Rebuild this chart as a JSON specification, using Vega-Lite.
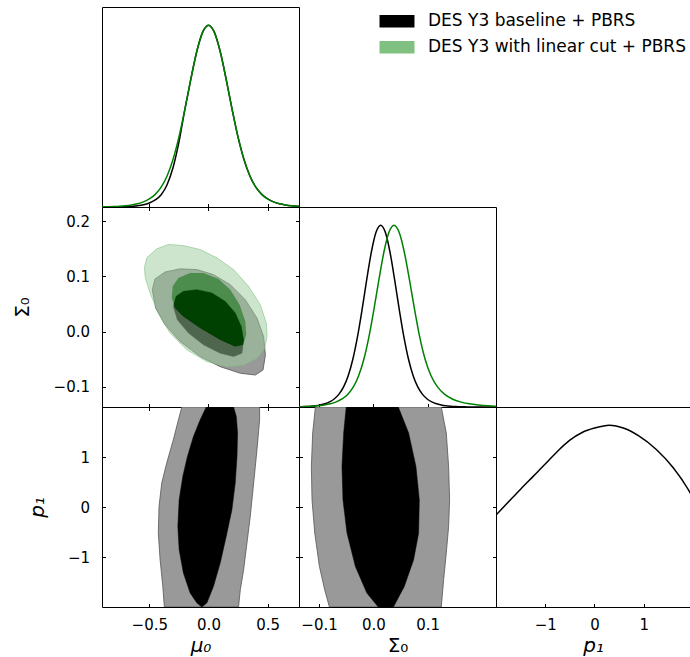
{
"$schema": "https://vega.github.io/schema/vega-lite/v6.json",
"background": "white",
"padding": {"left": 12, "top": 6, "right": 0, "bottom": 0},
"config": {
 "font": "DejaVu Sans",
 "view": {"stroke": "black", "strokeWidth": 1},
 "axis": {"grid": false, "domain": true, "domainColor": "black", "domainWidth": 1, "ticks": true, "tickColor": "black", "tickWidth": 1, "tickSize": -3.5, "labelFont": "DejaVu Sans", "labelFontSize": 15, "labelColor": "black", "titleFont": "DejaVu Sans", "titleFontSize": 20, "titleFontWeight": "normal", "titleColor": "black", "zindex": 1},
 "axisX": {"labelPadding": 14, "titlePadding": 3},
 "axisY": {"labelPadding": 16, "titlePadding": 20}
},
"datasets": {
 "mu_b": [{"x":-0.9,"y":0.0001},{"x":-0.85,"y":0.0002},{"x":-0.8,"y":0.0004},{"x":-0.75,"y":0.0008},{"x":-0.7,"y":0.0017},{"x":-0.65,"y":0.0034},{"x":-0.6,"y":0.0064},{"x":-0.55,"y":0.0119},{"x":-0.5,"y":0.0218},{"x":-0.45,"y":0.0386},{"x":-0.4,"y":0.0677},{"x":-0.35,"y":0.1223},{"x":-0.3,"y":0.2155},{"x":-0.25,"y":0.3566},{"x":-0.2,"y":0.5358},{"x":-0.15,"y":0.7006},{"x":-0.1,"y":0.8525},{"x":-0.05,"y":0.9607},{"x":0,"y":1},{"x":0.05,"y":0.9607},{"x":0.1,"y":0.8525},{"x":0.15,"y":0.7006},{"x":0.2,"y":0.5358},{"x":0.25,"y":0.3842},{"x":0.3,"y":0.2611},{"x":0.35,"y":0.1706},{"x":0.4,"y":0.109},{"x":0.45,"y":0.0693},{"x":0.5,"y":0.0441},{"x":0.55,"y":0.0282},{"x":0.6,"y":0.018},{"x":0.65,"y":0.0113},{"x":0.7,"y":0.0069},{"x":0.75,"y":0.0042},{"x":0.765,"y":0.0037}],
 "mu_g": [{"x":-0.9,"y":0.0008},{"x":-0.85,"y":0.0014},{"x":-0.8,"y":0.0025},{"x":-0.75,"y":0.0042},{"x":-0.7,"y":0.0069},{"x":-0.65,"y":0.0113},{"x":-0.6,"y":0.018},{"x":-0.55,"y":0.0282},{"x":-0.5,"y":0.0441},{"x":-0.45,"y":0.0693},{"x":-0.4,"y":0.109},{"x":-0.35,"y":0.1706},{"x":-0.3,"y":0.2611},{"x":-0.25,"y":0.3842},{"x":-0.2,"y":0.5358},{"x":-0.15,"y":0.7006},{"x":-0.1,"y":0.8525},{"x":-0.05,"y":0.9607},{"x":0,"y":1},{"x":0.05,"y":0.9607},{"x":0.1,"y":0.8525},{"x":0.15,"y":0.7006},{"x":0.2,"y":0.5358},{"x":0.25,"y":0.3842},{"x":0.3,"y":0.2611},{"x":0.35,"y":0.1706},{"x":0.4,"y":0.109},{"x":0.45,"y":0.0693},{"x":0.5,"y":0.0441},{"x":0.55,"y":0.0282},{"x":0.6,"y":0.018},{"x":0.65,"y":0.0113},{"x":0.7,"y":0.0069},{"x":0.75,"y":0.0042},{"x":0.765,"y":0.0037}],
 "s_b": [{"x":-0.137,"y":0.001},{"x":-0.13219,"y":0.0014},{"x":-0.12362,"y":0.0025},{"x":-0.11505,"y":0.0042},{"x":-0.10648,"y":0.0069},{"x":-0.09791,"y":0.0113},{"x":-0.08934,"y":0.018},{"x":-0.08077,"y":0.0282},{"x":-0.0722,"y":0.0441},{"x":-0.06363,"y":0.0693},{"x":-0.05506,"y":0.109},{"x":-0.04649,"y":0.1706},{"x":-0.03792,"y":0.2611},{"x":-0.02935,"y":0.3842},{"x":-0.02078,"y":0.5358},{"x":-0.01221,"y":0.7006},{"x":-0.00364,"y":0.8525},{"x":0.00493,"y":0.9607},{"x":0.0135,"y":1},{"x":0.02207,"y":0.9607},{"x":0.03064,"y":0.8525},{"x":0.03921,"y":0.7006},{"x":0.04778,"y":0.5358},{"x":0.05635,"y":0.3842},{"x":0.06492,"y":0.2611},{"x":0.07349,"y":0.1706},{"x":0.08206,"y":0.109},{"x":0.09063,"y":0.0693},{"x":0.0992,"y":0.0441},{"x":0.10777,"y":0.0282},{"x":0.11634,"y":0.018},{"x":0.12491,"y":0.0113},{"x":0.13348,"y":0.0069},{"x":0.14205,"y":0.0042},{"x":0.15062,"y":0.0025},{"x":0.15919,"y":0.0014},{"x":0.16776,"y":0.0008},{"x":0.19,"y":0.0002},{"x":0.226,"y":0}],
 "s_g": [{"x":-0.137,"y":0.0014},{"x":-0.1251,"y":0.0025},{"x":-0.1133,"y":0.0042},{"x":-0.1016,"y":0.0069},{"x":-0.0903,"y":0.0113},{"x":-0.0791,"y":0.018},{"x":-0.0683,"y":0.0282},{"x":-0.0576,"y":0.0441},{"x":-0.0473,"y":0.0693},{"x":-0.0371,"y":0.109},{"x":-0.0273,"y":0.1706},{"x":-0.0176,"y":0.2611},{"x":-0.00825,"y":0.3842},{"x":0.001,"y":0.5358},{"x":0.01025,"y":0.7006},{"x":0.0195,"y":0.8525},{"x":0.02875,"y":0.9607},{"x":0.038,"y":1},{"x":0.0475,"y":0.9607},{"x":0.057,"y":0.8525},{"x":0.0665,"y":0.7006},{"x":0.076,"y":0.5358},{"x":0.0855,"y":0.3842},{"x":0.0955,"y":0.2611},{"x":0.1065,"y":0.1706},{"x":0.1185,"y":0.109},{"x":0.1315,"y":0.0693},{"x":0.1455,"y":0.0441},{"x":0.1605,"y":0.0282},{"x":0.1765,"y":0.018},{"x":0.1935,"y":0.0113},{"x":0.2115,"y":0.0069},{"x":0.226,"y":0.0047}],
 "p1c": [{"x":-2,"y":0.506},{"x":-1.75,"y":0.577},{"x":-1.5,"y":0.648},{"x":-1.25,"y":0.717},{"x":-1,"y":0.786},{"x":-0.75,"y":0.857},{"x":-0.5,"y":0.918},{"x":-0.25,"y":0.96},{"x":0,"y":0.984},{"x":0.3,"y":1.0},{"x":0.6,"y":0.983},{"x":0.9,"y":0.941},{"x":1.25,"y":0.868},{"x":1.6,"y":0.766},{"x":1.95,"y":0.625},{"x":2.0,"y":0.6}],
 "a_b2": [{"i":0,"x":-0.475,"y":0.076},{"i":1,"x":-0.452,"y":0.0954},{"i":2,"x":-0.367,"y":0.108},{"i":3,"x":-0.24,"y":0.1137},{"i":4,"x":-0.098,"y":0.1124},{"i":5,"x":0.042,"y":0.1033},{"i":6,"x":0.184,"y":0.0851},{"i":7,"x":0.311,"y":0.0577},{"i":8,"x":0.41,"y":0.0244},{"i":9,"x":0.466,"y":-0.0091},{"i":10,"x":0.481,"y":-0.0424},{"i":11,"x":0.461,"y":-0.0698},{"i":12,"x":0.396,"y":-0.0789},{"i":13,"x":0.269,"y":-0.0758},{"i":14,"x":0.099,"y":-0.0638},{"i":15,"x":-0.07,"y":-0.0455},{"i":16,"x":-0.24,"y":-0.0182},{"i":17,"x":-0.367,"y":0.0122},{"i":18,"x":-0.446,"y":0.0426},{"i":19,"x":-0.475,"y":0.076}],
 "a_b1": [{"i":0,"x":-0.297,"y":0.0455},{"i":1,"x":-0.274,"y":0.0638},{"i":2,"x":-0.212,"y":0.0729},{"i":3,"x":-0.098,"y":0.076},{"i":4,"x":0.029,"y":0.07},{"i":5,"x":0.142,"y":0.0546},{"i":6,"x":0.226,"y":0.0335},{"i":7,"x":0.277,"y":0.0091},{"i":8,"x":0.297,"y":-0.0151},{"i":9,"x":0.283,"y":-0.0393},{"i":10,"x":0.212,"y":-0.0455},{"i":11,"x":0.099,"y":-0.0393},{"i":12,"x":-0.042,"y":-0.0242},{"i":13,"x":-0.169,"y":-0.0029},{"i":14,"x":-0.263,"y":0.0213},{"i":15,"x":-0.297,"y":0.0455}],
 "a_gband": [{"i":0,"x":-0.542,"y":0.1155},{"i":1,"x":-0.522,"y":0.1337},{"i":2,"x":-0.437,"y":0.15},{"i":3,"x":-0.339,"y":0.158},{"i":4,"x":-0.212,"y":0.156},{"i":5,"x":-0.07,"y":0.1488},{"i":6,"x":0.071,"y":0.1337},{"i":7,"x":0.212,"y":0.1124},{"i":8,"x":0.339,"y":0.082},{"i":9,"x":0.438,"y":0.0486},{"i":10,"x":0.489,"y":0.0153},{"i":11,"x":0.495,"y":-0.0091},{"i":12,"x":0.475,"y":-0.0302},{"i":13,"x":0.41,"y":-0.0485},{"i":14,"x":0.297,"y":-0.0607},{"i":15,"x":0.156,"y":-0.0638},{"i":16,"x":-0.014,"y":-0.0546},{"i":17,"x":-0.183,"y":-0.0333},{"i":18,"x":-0.325,"y":-0.0029},{"i":19,"x":-0.424,"y":0.0335},{"i":20,"x":-0.494,"y":0.07},{"i":21,"x":-0.534,"y":0.0973},{"i":22,"x":-0.542,"y":0.1155},{"i":23,"x":-0.31,"y":0.0608},{"i":24,"x":-0.282,"y":0.0426},{"i":25,"x":-0.212,"y":0.0273},{"i":26,"x":-0.07,"y":0.0062},{"i":27,"x":0.099,"y":-0.0151},{"i":28,"x":0.226,"y":-0.0273},{"i":29,"x":0.292,"y":-0.0242},{"i":30,"x":0.319,"y":-0.006},{"i":31,"x":0.311,"y":0.0182},{"i":32,"x":0.263,"y":0.0486},{"i":33,"x":0.184,"y":0.076},{"i":34,"x":0.085,"y":0.0954},{"i":35,"x":-0.042,"y":0.1064},{"i":36,"x":-0.155,"y":0.1064},{"i":37,"x":-0.254,"y":0.0973},{"i":38,"x":-0.302,"y":0.082},{"i":39,"x":-0.31,"y":0.0608},{"i":40,"x":-0.542,"y":0.1155}],
 "a_g1": [{"i":0,"x":-0.31,"y":0.0608},{"i":1,"x":-0.302,"y":0.082},{"i":2,"x":-0.254,"y":0.0973},{"i":3,"x":-0.155,"y":0.1064},{"i":4,"x":-0.042,"y":0.1064},{"i":5,"x":0.085,"y":0.0954},{"i":6,"x":0.184,"y":0.076},{"i":7,"x":0.263,"y":0.0486},{"i":8,"x":0.311,"y":0.0182},{"i":9,"x":0.319,"y":-0.006},{"i":10,"x":0.292,"y":-0.0242},{"i":11,"x":0.226,"y":-0.0273},{"i":12,"x":0.099,"y":-0.0151},{"i":13,"x":-0.07,"y":0.0062},{"i":14,"x":-0.212,"y":0.0273},{"i":15,"x":-0.282,"y":0.0426},{"i":16,"x":-0.31,"y":0.0608}],
 "c_b2": [{"i":0,"x":-0.225,"y":2.0},{"i":1,"x":-0.254,"y":1.746},{"i":2,"x":-0.297,"y":1.346},{"i":3,"x":-0.353,"y":0.88},{"i":4,"x":-0.395,"y":0.48},{"i":5,"x":-0.418,"y":0.012},{"i":6,"x":-0.424,"y":-0.52},{"i":7,"x":-0.409,"y":-1.054},{"i":8,"x":-0.386,"y":-1.588},{"i":9,"x":-0.373,"y":-2.0},{"i":10,"x":0.254,"y":-2.0},{"i":11,"x":0.269,"y":-1.654},{"i":12,"x":0.297,"y":-1.254},{"i":13,"x":0.325,"y":-0.72},{"i":14,"x":0.353,"y":-0.188},{"i":15,"x":0.376,"y":0.346},{"i":16,"x":0.396,"y":0.812},{"i":17,"x":0.415,"y":1.28},{"i":18,"x":0.432,"y":1.746},{"i":19,"x":0.432,"y":2.0},{"i":20,"x":-0.225,"y":2.0}],
 "c_b1": [{"i":0,"x":-0.019,"y":2.0},{"i":1,"x":-0.07,"y":1.746},{"i":2,"x":-0.127,"y":1.412},{"i":3,"x":-0.178,"y":1.012},{"i":4,"x":-0.217,"y":0.612},{"i":5,"x":-0.248,"y":0.146},{"i":6,"x":-0.259,"y":-0.388},{"i":7,"x":-0.248,"y":-0.854},{"i":8,"x":-0.212,"y":-1.32},{"i":9,"x":-0.155,"y":-1.72},{"i":10,"x":-0.098,"y":-1.92},{"i":11,"x":-0.056,"y":-2.0},{"i":12,"x":-0.014,"y":-1.92},{"i":13,"x":0.042,"y":-1.588},{"i":14,"x":0.099,"y":-1.12},{"i":15,"x":0.15,"y":-0.588},{"i":16,"x":0.198,"y":-0.054},{"i":17,"x":0.226,"y":0.48},{"i":18,"x":0.241,"y":1.012},{"i":19,"x":0.246,"y":1.48},{"i":20,"x":0.235,"y":1.812},{"i":21,"x":0.212,"y":2.0},{"i":22,"x":-0.019,"y":2.0}],
 "d_b2": [{"i":0,"x":-0.1068,"y":2.0},{"i":1,"x":-0.1118,"y":1.48},{"i":2,"x":-0.1142,"y":0.812},{"i":3,"x":-0.113,"y":0.146},{"i":4,"x":-0.108,"y":-0.52},{"i":5,"x":-0.0994,"y":-1.188},{"i":6,"x":-0.0897,"y":-1.654},{"i":7,"x":-0.081,"y":-2.0},{"i":8,"x":0.1252,"y":-2.0},{"i":9,"x":0.1295,"y":-1.454},{"i":10,"x":0.1344,"y":-0.92},{"i":11,"x":0.1387,"y":-0.388},{"i":12,"x":0.1405,"y":0.146},{"i":13,"x":0.1387,"y":0.812},{"i":14,"x":0.1344,"y":1.48},{"i":15,"x":0.1252,"y":2.0},{"i":16,"x":-0.1068,"y":2.0}],
 "d_b1": [{"i":0,"x":-0.05,"y":2.0},{"i":1,"x":-0.0547,"y":1.48},{"i":2,"x":-0.0578,"y":0.812},{"i":3,"x":-0.056,"y":0.146},{"i":4,"x":-0.0486,"y":-0.52},{"i":5,"x":-0.0331,"y":-1.188},{"i":6,"x":-0.012,"y":-1.72},{"i":7,"x":0.009,"y":-2.0},{"i":8,"x":0.037,"y":-2.0},{"i":9,"x":0.057,"y":-1.588},{"i":10,"x":0.0742,"y":-1.054},{"i":11,"x":0.0834,"y":-0.52},{"i":12,"x":0.0847,"y":0.146},{"i":13,"x":0.0785,"y":0.812},{"i":14,"x":0.065,"y":1.48},{"i":15,"x":0.046,"y":2.0},{"i":16,"x":-0.05,"y":2.0}]
},
"columns": 3,
"spacing": 0,
"bounds": "flush",
"resolve": {"scale": {"x": "independent", "y": "independent"}},
"concat": [
 {
  "width": 197, "height": 200,
  "layer": [
   {"data": {"name": "mu_b"}, "mark": {"type": "line", "color": "black", "strokeWidth": 1.5, "interpolate": "monotone", "clip": true},
    "encoding": {
     "x": {"field": "x", "type": "quantitative", "scale": {"domain": [-0.9, 0.765], "nice": false, "zero": false}, "axis": {"orient": "bottom", "values": [-0.5, 0, 0.5], "labels": false, "title": null, "domain": false}},
     "y": {"field": "y", "type": "quantitative", "scale": {"domain": [0, 1.1], "nice": false, "zero": false}, "axis": null}}},
   {"data": {"name": "mu_g"}, "mark": {"type": "line", "color": "#008000", "strokeWidth": 1.5, "interpolate": "monotone", "clip": true},
    "encoding": {"x": {"field": "x", "type": "quantitative"}, "y": {"field": "y", "type": "quantitative"}}},
   {"data": {"values": [{"s": "DES Y3 baseline + PBRS"}, {"s": "DES Y3 with linear cut + PBRS"}]},
    "mark": {"type": "square", "size": 0},
    "encoding": {"fill": {"field": "s", "type": "nominal", "scale": {"domain": ["DES Y3 baseline + PBRS", "DES Y3 with linear cut + PBRS"], "range": ["#000000", "#80c080"]},
     "legend": {"orient": "none", "legendX": 286.5, "legendY": 5.7, "title": null, "symbolType": "M-2.8,-1L2.8,-1L2.8,1L-2.8,1Z", "symbolSize": 156, "symbolStrokeWidth": 0, "symbolOpacity": 1, "labelFont": "DejaVu Sans", "labelFontSize": 17, "labelColor": "black", "labelOffset": 22.5, "labelLimit": 400, "rowPadding": 8, "padding": 0}}}}
  ]
 },
 {"width": 197, "height": 200, "view": {"stroke": null}, "data": {"values": [{"z": 0}]}, "mark": {"type": "point", "opacity": 0}, "encoding": {}},
 {"width": 194, "height": 200, "view": {"stroke": null}, "data": {"values": [{"z": 0}]}, "mark": {"type": "point", "opacity": 0}, "encoding": {}},
 {
  "width": 197, "height": 200, "view": {"stroke": null},
  "resolve": {"axis": {"x": "independent", "y": "independent"}},
  "layer": [
   {"data": {"name": "a_b2"}, "mark": {"type": "line", "fill": "#999999", "stroke": "#555555", "strokeWidth": 0.8},
    "encoding": {
     "x": {"field": "x", "type": "quantitative", "scale": {"domain": [-0.9, 0.765], "nice": false, "zero": false}, "axis": {"orient": "bottom", "values": [-0.5, 0, 0.5], "labels": false, "title": null}},
     "y": {"field": "y", "type": "quantitative", "scale": {"domain": [-0.137, 0.226], "nice": false, "zero": false}, "axis": {"orient": "left", "values": [-0.1, 0, 0.1, 0.2], "format": ".1f", "title": "Σ₀", "titlePadding": 21}},
     "order": {"field": "i", "type": "quantitative"}}},
   {"data": {"name": "a_b1"}, "mark": {"type": "line", "fill": "black", "stroke": "black", "strokeWidth": 0.5},
    "encoding": {"x": {"field": "x", "type": "quantitative", "axis": null}, "y": {"field": "y", "type": "quantitative", "axis": null}, "order": {"field": "i", "type": "quantitative"}}},
   {"data": {"name": "a_gband"}, "mark": {"type": "line", "fill": "#99cc99", "fillOpacity": 0.5, "strokeWidth": 0, "strokeOpacity": 0},
    "encoding": {"x": {"field": "x", "type": "quantitative", "axis": null}, "y": {"field": "y", "type": "quantitative", "axis": null}, "order": {"field": "i", "type": "quantitative"}}},
   {"data": {"name": "a_gband"}, "transform": [{"filter": "datum.i <= 22"}], "mark": {"type": "line", "color": "#80c080", "strokeWidth": 0.8, "strokeOpacity": 0.7},
    "encoding": {"x": {"field": "x", "type": "quantitative", "axis": null}, "y": {"field": "y", "type": "quantitative", "axis": null}, "order": {"field": "i", "type": "quantitative"}}},
   {"data": {"name": "a_g1"}, "mark": {"type": "line", "fill": "#008000", "fillOpacity": 0.5, "strokeWidth": 0, "strokeOpacity": 0},
    "encoding": {"x": {"field": "x", "type": "quantitative", "axis": {"orient": "top", "values": [-0.5, 0, 0.5], "labels": false, "title": null}}, "y": {"field": "y", "type": "quantitative", "axis": {"orient": "right", "values": [-0.1, 0, 0.1, 0.2], "labels": false, "title": null}}, "order": {"field": "i", "type": "quantitative"}}}
  ]
 },
 {
  "width": 197, "height": 200,
  "layer": [
   {"data": {"name": "s_b"}, "mark": {"type": "line", "color": "black", "strokeWidth": 1.5, "interpolate": "monotone", "clip": true},
    "encoding": {
     "x": {"field": "x", "type": "quantitative", "scale": {"domain": [-0.137, 0.226], "nice": false, "zero": false}, "axis": {"orient": "bottom", "values": [-0.1, 0, 0.1], "labels": false, "title": null, "domain": false}},
     "y": {"field": "y", "type": "quantitative", "scale": {"domain": [0, 1.1], "nice": false, "zero": false}, "axis": null}}},
   {"data": {"name": "s_g"}, "mark": {"type": "line", "color": "#008000", "strokeWidth": 1.5, "interpolate": "monotone", "clip": true},
    "encoding": {"x": {"field": "x", "type": "quantitative"}, "y": {"field": "y", "type": "quantitative"}}}
  ]
 },
 {"width": 194, "height": 200, "view": {"stroke": null}, "data": {"values": [{"z": 0}]}, "mark": {"type": "point", "opacity": 0}, "encoding": {}},
 {
  "width": 197, "height": 200, "view": {"stroke": null},
  "resolve": {"axis": {"x": "independent", "y": "independent"}},
  "layer": [
   {"data": {"name": "c_b2"}, "mark": {"type": "line", "fill": "#999999", "stroke": "#555555", "strokeWidth": 0.8, "clip": true},
    "encoding": {
     "x": {"field": "x", "type": "quantitative", "scale": {"domain": [-0.9, 0.765], "nice": false, "zero": false}, "axis": {"orient": "bottom", "values": [-0.5, 0, 0.5], "format": ".1f", "title": "μ₀", "titleFontStyle": "italic"}},
     "y": {"field": "y", "type": "quantitative", "scale": {"domain": [-2, 2], "nice": false, "zero": false}, "axis": {"orient": "left", "values": [-1, 0, 1], "format": "d", "title": "p₁", "titleFontStyle": "italic", "titlePadding": 19.5}},
     "order": {"field": "i", "type": "quantitative"}}},
   {"data": {"name": "c_b1"}, "mark": {"type": "line", "fill": "black", "stroke": "black", "strokeWidth": 0.5, "clip": true},
    "encoding": {"x": {"field": "x", "type": "quantitative", "axis": {"orient": "top", "values": [-0.5, 0, 0.5], "labels": false, "title": null}}, "y": {"field": "y", "type": "quantitative", "axis": {"orient": "right", "values": [-1, 0, 1], "labels": false, "title": null}}, "order": {"field": "i", "type": "quantitative"}}}
  ]
 },
 {
  "width": 197, "height": 200, "view": {"stroke": null},
  "resolve": {"axis": {"x": "independent", "y": "independent"}},
  "layer": [
   {"data": {"name": "d_b2"}, "mark": {"type": "line", "fill": "#999999", "stroke": "#555555", "strokeWidth": 0.8, "clip": true},
    "encoding": {
     "x": {"field": "x", "type": "quantitative", "scale": {"domain": [-0.137, 0.226], "nice": false, "zero": false}, "axis": {"orient": "bottom", "values": [-0.1, 0, 0.1], "format": ".1f", "title": "Σ₀"}},
     "y": {"field": "y", "type": "quantitative", "scale": {"domain": [-2, 2], "nice": false, "zero": false}, "axis": {"orient": "left", "values": [-1, 0, 1], "labels": false, "title": null}},
     "order": {"field": "i", "type": "quantitative"}}},
   {"data": {"name": "d_b1"}, "mark": {"type": "line", "fill": "black", "stroke": "black", "strokeWidth": 0.5, "clip": true},
    "encoding": {"x": {"field": "x", "type": "quantitative", "axis": {"orient": "top", "values": [-0.1, 0, 0.1], "labels": false, "title": null}}, "y": {"field": "y", "type": "quantitative", "axis": {"orient": "right", "values": [-1, 0, 1], "labels": false, "title": null}}, "order": {"field": "i", "type": "quantitative"}}}
  ]
 },
 {
  "width": 194, "height": 200, "view": {"stroke": null},
  "resolve": {"axis": {"x": "independent", "y": "independent"}},
  "layer": [
   {"data": {"name": "p1c"}, "mark": {"type": "line", "color": "black", "strokeWidth": 1.5, "interpolate": "monotone", "clip": true},
    "encoding": {
     "x": {"field": "x", "type": "quantitative", "scale": {"domain": [-2, 1.94], "nice": false, "zero": false}, "axis": {"orient": "bottom", "values": [-1, 0, 1], "format": "d", "title": "p₁", "titleFontStyle": "italic"}},
     "y": {"field": "y", "type": "quantitative", "scale": {"domain": [0, 1.1], "nice": false, "zero": false}, "axis": {"orient": "left", "ticks": false, "labels": false, "title": null}}}},
   {"data": {"name": "p1c"}, "mark": {"type": "line", "opacity": 0, "clip": true},
    "encoding": {"x": {"field": "x", "type": "quantitative", "axis": {"orient": "top", "ticks": false, "labels": false, "title": null}}, "y": {"field": "y", "type": "quantitative", "axis": null}}}
  ]
 }
]
}
